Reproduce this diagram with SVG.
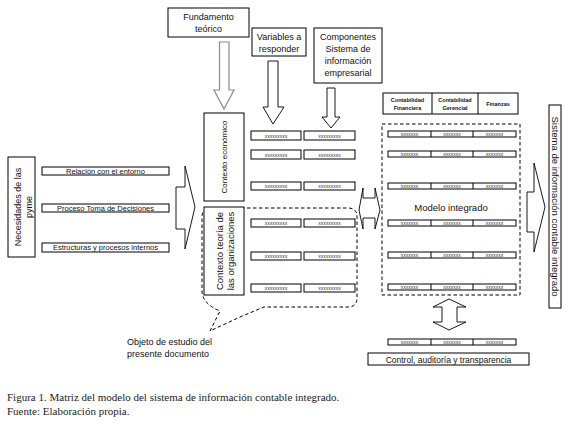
<svg xmlns="http://www.w3.org/2000/svg" width="568" height="424" viewBox="0 0 568 424">
<style>
text{font-family:"Liberation Sans",Arial,sans-serif;fill:#111}
.box{fill:#fff;stroke:#000;stroke-width:1}
.arr{fill:#fff;stroke:#000;stroke-width:0.9}
.garr{fill:#fff;stroke:#8a8a8a;stroke-width:1.2}
.dash{fill:none;stroke:#000;stroke-width:1;stroke-dasharray:3.5,2.5}
.t9{font-size:9px;text-anchor:middle}
.t7{font-size:7.5px;text-anchor:middle}
.tx{font-size:5px;text-anchor:middle;fill:#333}
.th{font-size:5.5px;text-anchor:middle;font-weight:bold}
.cap{font-family:"Liberation Serif","Times New Roman",serif;font-size:11px;fill:#222}
</style>
<rect width="568" height="424" fill="#fff"/>

<g id="connectors">
  <polygon class="garr" points="219.5,42 229,42 229,90 234,90 224,109 214,90 219.5,90"/>
  <polygon class="arr" points="268,61 278,61 278,107 284,107 273,124 263,107 268,107"/>
  <polygon class="arr" points="327,88 335,88 335,117 340,117 331,128 322,117 327,117"/>
  <polygon class="arr" points="176,187 185,187 185,166 195,207 185,249 185,229 176,229"/>
  <polygon class="arr" points="359,210 363,188 363,198 375,198 375,188 380,210 375,229 375,218 363,218 363,229"/>
  <polygon class="arr" points="449,299 466,307 457,307 457,322 466,322 449,330 433,322 442,322 442,307 433,307"/>
  <polygon class="arr" points="527,192 534,192 534,163 545,207 534,252 534,232 527,232"/>
  <path class="dash" d="M211,208 H348 Q357,208 357,217 V298 Q357,307 348,307 H264 L240,317 L210,331 L220,311 Q203,304 202,292 V217 Q202,208 211,208 Z"/>
</g>

<g id="fundamento">
  <rect class="box" x="168" y="8" width="81" height="29"/>
  <text class="t9" x="208.5" y="20">Fundamento</text>
  <text class="t9" x="208.5" y="32">teórico</text>
</g>
<g id="variables">
  <rect class="box" x="252" y="28" width="54" height="28"/>
  <text class="t9" x="279" y="40">Variables a</text>
  <text class="t9" x="279" y="52">responder</text>
</g>
<g id="componentes">
  <rect class="box" x="314" y="28" width="68" height="55"/>
  <text class="t9" x="348" y="40">Componentes</text>
  <text class="t9" x="348" y="52">Sistema de</text>
  <text class="t9" x="348" y="64">información</text>
  <text class="t9" x="348" y="76">empresarial</text>
</g>

<g id="necesidades">
  <rect class="box" x="8" y="157" width="27" height="100"/>
  <text class="t9" transform="translate(21,207) rotate(-90)" x="0" y="0">Necesidades de las</text>
  <text class="t9" transform="translate(32,207) rotate(-90)" x="0" y="0">pyme</text>
</g>
<g id="relacion">
  <rect class="box" x="42" y="167" width="127" height="8"/>
  <text class="t7" x="105.5" y="173.8">Relación con el entorno</text>
</g>
<g id="proceso">
  <rect class="box" x="42" y="204" width="127" height="8"/>
  <text class="t7" x="105.5" y="210.8">Proceso Toma de Decisiones</text>
</g>
<g id="estructuras">
  <rect class="box" x="42" y="243" width="127" height="9"/>
  <text class="t7" x="105.5" y="250.3">Estructuras y procesos internos</text>
</g>

<g id="contexto-economico">
  <rect class="box" x="204" y="113" width="40" height="88"/>
  <text class="t7" style="font-size:8px" transform="translate(227,157) rotate(-90)">Contexto económico</text>
</g>
<g id="contexto-teoria">
  <rect class="box" x="204" y="207" width="40" height="88"/>
  <text class="t9" style="font-size:9.5px" transform="translate(223,251) rotate(-90)">Contexto teoría de</text>
  <text class="t9" style="font-size:9.5px" transform="translate(234,251) rotate(-90)">las organizaciones</text>
</g>

<g id="variables-rows">
  <rect class="box" x="251" y="131" width="50" height="9"/><text class="tx" x="276" y="137.5">xxxxxxxxx</text>
  <rect class="box" x="304" y="131" width="51" height="9"/><text class="tx" x="329.5" y="137.5">xxxxxxxxx</text>
  <rect class="box" x="251" y="150" width="50" height="9"/><text class="tx" x="276" y="156.5">xxxxxxxxx</text>
  <rect class="box" x="304" y="150" width="51" height="9"/><text class="tx" x="329.5" y="156.5">xxxxxxxxx</text>
  <rect class="box" x="251" y="182" width="50" height="8"/><text class="tx" x="276" y="188">xxxxxxxxx</text>
  <rect class="box" x="304" y="182" width="51" height="8"/><text class="tx" x="329.5" y="188">xxxxxxxxx</text>
  <rect class="box" x="251" y="219" width="50" height="8"/><text class="tx" x="276" y="225">xxxxxxxxx</text>
  <rect class="box" x="304" y="219" width="51" height="8"/><text class="tx" x="329.5" y="225">xxxxxxxxx</text>
  <rect class="box" x="251" y="252" width="50" height="8"/><text class="tx" x="276" y="258">xxxxxxxxx</text>
  <rect class="box" x="304" y="252" width="51" height="8"/><text class="tx" x="329.5" y="258">xxxxxxxxx</text>
  <rect class="box" x="251" y="284" width="50" height="8"/><text class="tx" x="276" y="290">xxxxxxxxx</text>
  <rect class="box" x="304" y="284" width="51" height="8"/><text class="tx" x="329.5" y="290">xxxxxxxxx</text>
</g>

<g id="objeto">
  <text style="font-size:9px" x="127" y="345">Objeto de estudio del</text>
  <text style="font-size:9px" x="127" y="357">presente documento</text>
</g>

<g id="encabezado">
  <rect class="box" x="383" y="93" width="135" height="21"/>
  <line x1="432" y1="93" x2="432" y2="114" stroke="#000"/>
  <line x1="478" y1="93" x2="478" y2="114" stroke="#000"/>
  <text class="th" x="407.5" y="102">Contabilidad</text>
  <text class="th" x="407.5" y="109.5">Financiera</text>
  <text class="th" x="455" y="102">Contabilidad</text>
  <text class="th" x="455" y="109.5">Gerencial</text>
  <text class="th" x="498" y="105.5">Finanzas</text>
</g>

<g id="modelo">
  <rect class="dash" x="382" y="124" width="138" height="171"/>
  <text class="t9" style="font-size:9.5px" x="451" y="211">Modelo integrado</text>
  <g id="modelo-rows">
    <g transform="translate(0,131)"><rect class="box" x="388" y="0" width="128" height="6"/><line x1="431" y1="0" x2="431" y2="6" stroke="#000"/><line x1="473" y1="0" x2="473" y2="6" stroke="#000"/><text class="tx" x="409.5" y="5">xxxxxxx</text><text class="tx" x="452" y="5">xxxxxxx</text><text class="tx" x="494.5" y="5">xxxxxxx</text></g>
    <g transform="translate(0,151)"><rect class="box" x="388" y="0" width="128" height="6"/><line x1="431" y1="0" x2="431" y2="6" stroke="#000"/><line x1="473" y1="0" x2="473" y2="6" stroke="#000"/><text class="tx" x="409.5" y="5">xxxxxxx</text><text class="tx" x="452" y="5">xxxxxxx</text><text class="tx" x="494.5" y="5">xxxxxxx</text></g>
    <g transform="translate(0,183)"><rect class="box" x="388" y="0" width="128" height="6"/><line x1="431" y1="0" x2="431" y2="6" stroke="#000"/><line x1="473" y1="0" x2="473" y2="6" stroke="#000"/><text class="tx" x="409.5" y="5">xxxxxxx</text><text class="tx" x="452" y="5">xxxxxxx</text><text class="tx" x="494.5" y="5">xxxxxxx</text></g>
    <g transform="translate(0,220)"><rect class="box" x="388" y="0" width="128" height="6"/><line x1="431" y1="0" x2="431" y2="6" stroke="#000"/><line x1="473" y1="0" x2="473" y2="6" stroke="#000"/><text class="tx" x="409.5" y="5">xxxxxxx</text><text class="tx" x="452" y="5">xxxxxxx</text><text class="tx" x="494.5" y="5">xxxxxxx</text></g>
    <g transform="translate(0,252)"><rect class="box" x="388" y="0" width="128" height="6"/><line x1="431" y1="0" x2="431" y2="6" stroke="#000"/><line x1="473" y1="0" x2="473" y2="6" stroke="#000"/><text class="tx" x="409.5" y="5">xxxxxxx</text><text class="tx" x="452" y="5">xxxxxxx</text><text class="tx" x="494.5" y="5">xxxxxxx</text></g>
    <g transform="translate(0,284)"><rect class="box" x="388" y="0" width="128" height="6"/><line x1="431" y1="0" x2="431" y2="6" stroke="#000"/><line x1="473" y1="0" x2="473" y2="6" stroke="#000"/><text class="tx" x="409.5" y="5">xxxxxxx</text><text class="tx" x="452" y="5">xxxxxxx</text><text class="tx" x="494.5" y="5">xxxxxxx</text></g>
  </g>
</g>

<g id="control-row">
  <g transform="translate(0,339)"><rect class="box" x="388" y="0" width="128" height="6"/><line x1="431" y1="0" x2="431" y2="6" stroke="#000"/><line x1="473" y1="0" x2="473" y2="6" stroke="#000"/><text class="tx" x="409.5" y="5">xxxxxxx</text><text class="tx" x="452" y="5">xxxxxxx</text><text class="tx" x="494.5" y="5">xxxxxxx</text></g>
</g>
<g id="control">
  <rect class="box" x="368" y="353" width="161" height="12"/>
  <text class="t9" style="font-size:8.5px" x="448.5" y="362.5">Control, auditoría y transparencia</text>
</g>

<g id="sistema">
  <rect class="box" x="549" y="105" width="12" height="203"/>
  <text class="t9" style="font-size:9.5px" transform="translate(551.5,206.5) rotate(90)">Sistema de información contable integrado</text>
</g>

<g id="caption">
  <text class="cap" x="7" y="401">Figura 1. Matriz del modelo del sistema de información contable integrado.</text>
  <text class="cap" x="7" y="415">Fuente: Elaboración propia.</text>
</g>
</svg>
